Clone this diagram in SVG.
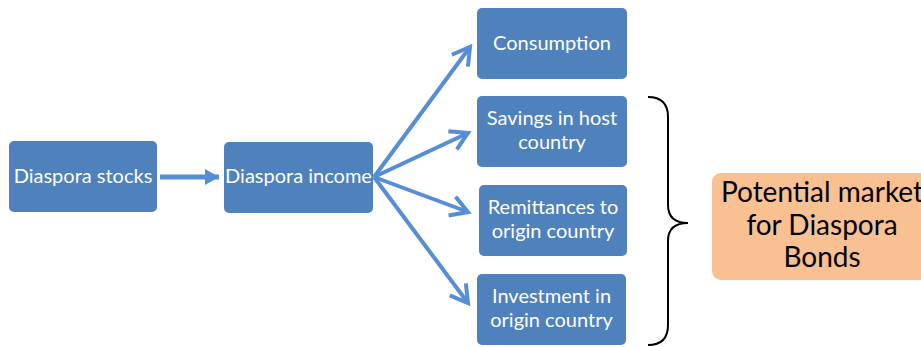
<svg xmlns="http://www.w3.org/2000/svg" width="921" height="347" viewBox="0 0 921 347">
  <style>
    .box { fill: #4F81BD; }
    .lbl { font-family: Lato, "Open Sans", "Liberation Sans", sans-serif; font-size: 20px; fill: #FFFFFF; text-anchor: middle; }
    .big { font-family: Lato, "Open Sans", "Liberation Sans", sans-serif; font-size: 28px; fill: #000000; text-anchor: middle; }
    .fan { stroke: #558ED5; stroke-width: 4; fill: none; marker-end: url(#open); }
  </style>
  <defs>
    <marker id="open" markerUnits="userSpaceOnUse" markerWidth="40" markerHeight="40" viewBox="-20 -20 40 40" refX="0" refY="0" orient="auto" overflow="visible">
      <path d="M -17 -10 L 0 0 L -17 10" fill="none" stroke="#558ED5" stroke-width="4" stroke-linejoin="miter"/>
    </marker>
    <marker id="solid" markerUnits="userSpaceOnUse" markerWidth="30" markerHeight="30" viewBox="-15 -15 30 30" refX="0" refY="0" orient="auto" overflow="visible">
      <path d="M -14 -8 L 0 0 L -14 8 Z" fill="#558ED5"/>
    </marker>
  </defs>
  <rect width="921" height="347" fill="#FFFFFF"/>

  <g id="connectors">
    <line x1="160" y1="177" x2="219" y2="177" stroke="#558ED5" stroke-width="5" marker-end="url(#solid)"/>
    <line class="fan" x1="374" y1="177" x2="470" y2="47"/>
    <line class="fan" x1="374" y1="177" x2="468" y2="133"/>
    <line class="fan" x1="374" y1="177" x2="468" y2="212"/>
    <line class="fan" x1="374" y1="177" x2="468" y2="303"/>
  </g>

  <g id="diaspora-stocks">
    <rect class="box" x="9" y="141" width="148" height="71" rx="5"/>
    <text class="lbl" x="83" y="183">Diaspora stocks</text>
  </g>
  <g id="diaspora-income">
    <rect class="box" x="224" y="142" width="149" height="71" rx="5"/>
    <text class="lbl" x="298.5" y="183">Diaspora income</text>
  </g>
  <g id="consumption">
    <rect class="box" x="477" y="8" width="150" height="71" rx="5"/>
    <text class="lbl" x="552" y="50">Consumption</text>
  </g>
  <g id="savings">
    <rect class="box" x="477" y="96" width="150" height="71" rx="5"/>
    <text class="lbl" x="552" y="125">Savings in host</text>
    <text class="lbl" x="552" y="149">country</text>
  </g>
  <g id="remittances">
    <rect class="box" x="479" y="185" width="148" height="71" rx="5"/>
    <text class="lbl" x="553" y="214">Remittances to</text>
    <text class="lbl" x="553" y="238">origin country</text>
  </g>
  <g id="investment">
    <rect class="box" x="477" y="274" width="149" height="71" rx="5"/>
    <text class="lbl" x="551.5" y="303">Investment in</text>
    <text class="lbl" x="551.5" y="327">origin country</text>
  </g>

  <g id="brace">
    <path d="M 648 97 Q 668 97 668 117 L 668 205 Q 668 223 688 223 Q 668 223 668 241 L 668 325 Q 668 345 648 345" fill="none" stroke="#000000" stroke-width="2"/>
  </g>

  <g id="potential-market">
    <rect x="712" y="173" width="220" height="107" rx="9" fill="#F9C192"/>
    <text class="big" x="822" y="202">Potential market</text>
    <text class="big" x="822" y="235">for Diaspora</text>
    <text class="big" x="822" y="267">Bonds</text>
  </g>
</svg>
